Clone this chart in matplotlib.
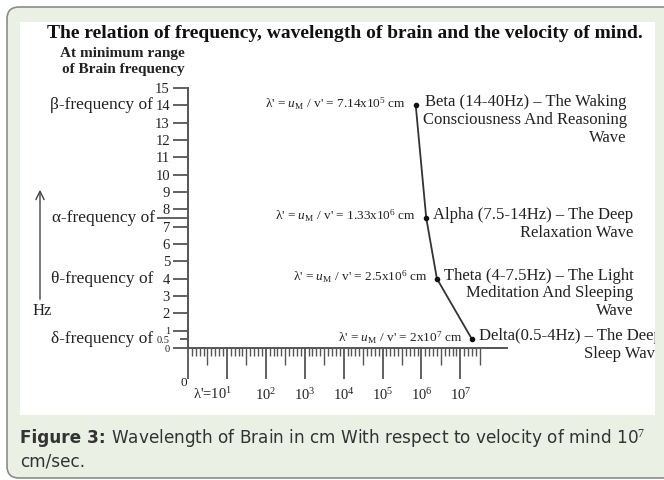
import matplotlib
matplotlib.use("Agg")
import numpy as np
import matplotlib.pyplot as plt
from matplotlib.patches import FancyBboxPatch, Rectangle, FancyArrowPatch
from matplotlib.text import Annotation
from matplotlib.transforms import Bbox, TransformedBbox

# data: brain wave bands, frequency (Hz) and wavelength (cm) for mind velocity 1e7 cm/s
frequency = [14, 7.5, 4, 0.5]
wavelength = [7.14e5, 1.33e6, 2.5e6, 2e7]
lambda_text = ["7.14x10$^5$", "1.33x10$^6$", "2.5x10$^6$", "2x10$^7$"]
wave_text = [
    "Beta (14-40Hz) \u2013 The Waking\nConsciousness And Reasoning\nWave",
    "Alpha (7.5-14Hz) \u2013 The Deep\nRelaxation Wave",
    "Theta (4-7.5Hz) \u2013 The Light\nMeditation And Sleeping\nWave",
    "Delta(0.5-4Hz) \u2013 The Deep\nSleep Wave",
]
band_names = ["\u03b2-frequency of", "\u03b1-frequency of", "\u03b8-frequency of", "\u03b4-frequency of"]

y_ticks = [0, 0.5, 1, 2, 3, 4, 5, 6, 7, 7.5, 8, 9, 10, 11, 12, 13, 14, 15]
y_labels = ["0", "0.5", "1", "2", "3", "4", "5", "6", "7", "", "8", "9", "10",
            "11", "12", "13", "14", "15"]
x_decades = [1, 2, 3, 4, 5, 6, 7]

plt.rcParams["font.family"] = ["Liberation Serif", "DejaVu Serif"]
plt.rcParams["mathtext.fontset"] = "custom"
plt.rcParams["mathtext.rm"] = "Liberation Serif"
plt.rcParams["mathtext.it"] = "Liberation Serif:italic"

W, H = 664, 480
fig = plt.figure(figsize=(W / 100, H / 100), dpi=100)
fig.patch.set_facecolor("white")

def fx(x):
    return x / W

def fy(y):
    return 1 - y / H

# outer rounded frame and white picture area
frame = FancyBboxPatch((0.07, 0.02), 6.70, 4.71, boxstyle="round,pad=0,rounding_size=0.12",
                       transform=fig.dpi_scale_trans, facecolor="#ebf0e5",
                       edgecolor="#8c8c8c", linewidth=1.2, zorder=-10)
fig.patches.append(frame)
fig.patches.append(Rectangle((0.20, 0.65), 6.35, 3.93, transform=fig.dpi_scale_trans,
                             facecolor="white", edgecolor="none", zorder=-9))
white_box = TransformedBbox(Bbox.from_bounds(0.20, 0.65, 6.35, 3.93), fig.dpi_scale_trans)

ink = "#222222"
axis_col = "#555555"

ax = fig.add_axes([fx(188), 1 - 348 / H, (507 - 188) / W, (348 - 88) / H])
ax.set_facecolor("none")
ax.set_xscale("log")
ax.set_xlim(1, 10 ** 8.2)
ax.set_ylim(0, 15)
for s in ["top", "right"]:
    ax.spines[s].set_visible(False)
for s in ["left", "bottom"]:
    ax.spines[s].set_color(axis_col)
    ax.spines[s].set_linewidth(1.4)

# y axis ticks
ax.set_yticks(y_ticks)
ax.set_yticklabels(y_labels)
ax.tick_params(axis="y", direction="out", length=11, width=1.3, color=axis_col,
               labelsize=10.5, labelcolor=ink, pad=2)
for t, v in zip(ax.yaxis.get_major_ticks(), y_ticks):
    if v == 7.5:
        t.tick1line.set_markersize(22)
    if v in (0, 0.5, 1):
        t.label1.set_fontsize(7.5)
    if v == 0.5:
        t.tick1line.set_markersize(6)

# x axis: ruler style ticks
ax.set_xticks([10.0 ** d for d in [0] + x_decades])
ax.set_xticklabels(["", "", "10$^2$", "10$^3$", "10$^4$", "10$^5$", "10$^6$", "10$^7$"])
minor = [10 ** (k / 10) for k in range(1, 76) if k % 5 != 0]
ax.set_xticks(minor, minor=True)
ax.tick_params(axis="x", which="major", direction="out", length=22, width=1.3,
               color=axis_col, labelsize=10.5, labelcolor=ink, pad=6)
ax.tick_params(axis="x", which="minor", direction="out", length=6, width=1.0,
               color=axis_col, labelbottom=False)
sec = ax.secondary_xaxis("bottom")
sec.spines["bottom"].set_visible(False)
sec.set_xticks([10 ** (k / 10) for k in range(5, 76, 10)])
sec.set_xticks([], minor=True)
sec.tick_params(axis="x", direction="out", length=12, width=1.0, color=axis_col,
                labelbottom=False)
ax.annotate("0", xy=(1, 0), xycoords=("data", "axes fraction"),
            xytext=(-1, -29), textcoords="offset pixels", ha="right", va="top",
            fontsize=9.5, color=ink)
ax.annotate("\u03bb'=10$^1$", xy=(10, 0), xycoords=("data", "axes fraction"),
            xytext=(5, -38), textcoords="offset pixels", ha="right", va="top",
            fontsize=10.5, color=ink)

# band labels on the frequency axis
for f, name in zip(frequency, band_names):
    off = -33 if f == 7.5 else -35
    ax.annotate(name, xy=(0, f), xycoords=("axes fraction", "data"),
                xytext=(off, 0), textcoords="offset pixels", ha="right",
                va="center", fontsize=12.5, color=ink)

# curve and points
ax.plot(wavelength, frequency, color="#333333", lw=1.3, clip_on=False)
ax.plot(wavelength, frequency, "o", color="#111111", ms=3, clip_on=False)
for lam, f, lt, wt in zip(wavelength, frequency, lambda_text, wave_text):
    ax.annotate("\u03bb' = $u_{\\mathrm{M}}$ / v' = " + lt + " cm", xy=(lam, f),
                xytext=(-10, 2), textcoords="offset pixels", ha="right", va="center",
                fontsize=9.5, color=ink)
    t = ax.annotate(wt, xy=(lam, f), xytext=(7, 11), textcoords="offset pixels",
                    ha="left", va="top", multialignment="right", fontsize=12,
                    color=ink, linespacing=1.15)
    t.set_clip_box(white_box)
    t.set_clip_on(True)

# titles
fig.text(fx(345), fy(33), "The relation of frequency, wavelength of brain and the velocity of mind.",
         ha="center", va="center", fontsize=14, fontweight="bold", color="#111111")
fig.text(fx(185), fy(53), "At minimum range", ha="right", va="center", fontsize=11,
         fontweight="bold", color=ink)
fig.text(fx(185), fy(69), "of Brain frequency", ha="right", va="center", fontsize=11,
         fontweight="bold", color=ink)

# Hz arrow
fig.patches.append(FancyArrowPatch(
    (fx(40), fy(302)), (fx(40), fy(187)), transform=fig.transFigure,
    arrowstyle="->,head_width=3,head_length=6", color="#444444", lw=1.0,
    mutation_scale=1))
fig.text(fx(33), fy(311), "Hz", ha="left", va="center", fontsize=12, color=ink)

# caption
cap = dict(va="center", fontsize=12.2, family="DejaVu Sans", color="#333333")
t1 = fig.text(fx(20), fy(438), "Figure 3:", ha="left", fontweight="bold", **cap)
fig.add_artist(Annotation("Wavelength of Brain in cm With respect to velocity of mind 10$^7$",
                          xy=(1, 0.5), xycoords=t1, xytext=(5, 0),
                          textcoords="offset pixels", ha="left", **cap))
fig.text(fx(20), fy(462), "cm/sec.", ha="left", **cap)

fig.savefig("out.png", dpi=100)
